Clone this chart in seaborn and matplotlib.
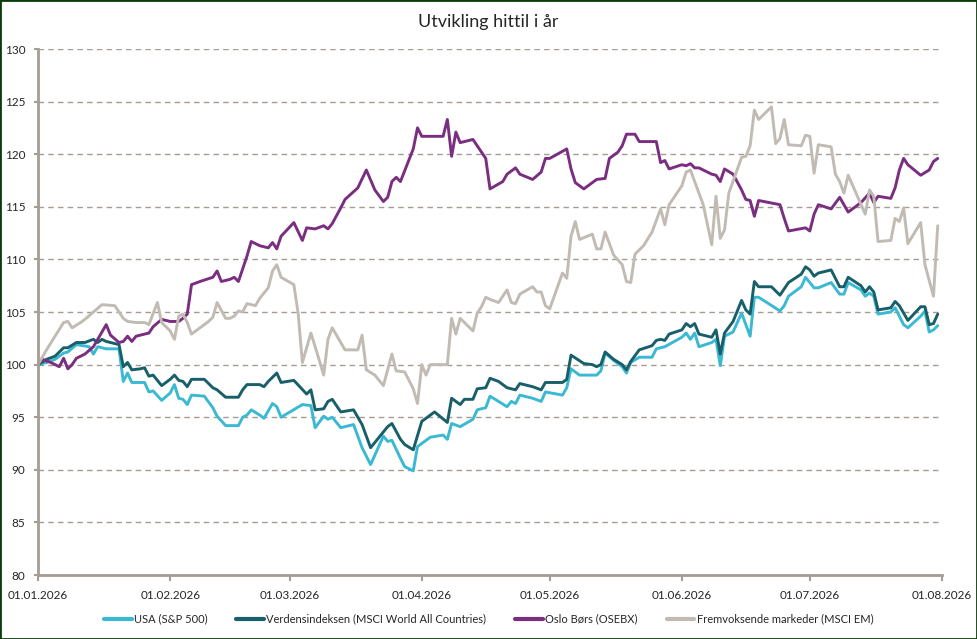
import matplotlib
matplotlib.use("Agg")
import matplotlib.pyplot as plt
import matplotlib.dates as mdates
from matplotlib.patches import Rectangle
from matplotlib.lines import Line2D
import pandas as pd
import seaborn as sns

# Data: day offsets from 01.01.2026 and index values
start = "2026-01-01"

usa_days = [0, 2, 4, 6, 7, 9, 12, 13, 14, 16, 19, 20, 21, 22, 25, 26, 27, 29, 31, 32,
            33, 34, 35, 36, 39, 41, 42, 44, 47, 48, 49, 50, 52, 53, 55, 56, 57, 62, 64, 65,
            67, 68, 69, 71, 74, 76, 78, 81, 82, 83, 85, 86, 88, 89, 92, 95, 96, 97, 99, 102,
            103, 105, 106, 108, 110, 111, 112, 113, 116, 118, 119, 123, 124, 125, 127, 130, 131, 132, 133, 135,
            137, 138, 139, 141, 144, 145, 147, 151, 152, 153, 154, 155, 158, 159, 160, 161, 163, 165, 167, 168,
            169, 174, 175, 176, 179, 180, 182, 183, 186, 188, 189, 190, 193, 194, 195, 196, 197, 200, 201, 203,
            204, 207, 208, 209, 210, 211]
usa_vals = [100.0, 100.2, 100.5, 101.1, 101.2, 101.9, 101.7, 101.0, 101.7, 101.5, 101.5, 98.4, 99.2, 98.3, 98.3, 97.4, 97.5, 96.6, 97.3, 98.1,
            96.8, 96.7, 96.2, 97.1, 97.0, 95.9, 95.1, 94.2, 94.2, 95.0, 95.2, 95.7, 95.2, 94.9, 96.3, 96.0, 95.0, 96.2, 96.1, 94.0,
            95.1, 94.8, 95.0, 94.0, 94.3, 92.1, 90.5, 93.2, 92.7, 92.8, 91.1, 90.3, 89.9, 92.2, 93.1, 93.3, 92.9, 94.4, 94.1, 94.8,
            95.7, 95.9, 97.0, 96.5, 96.0, 96.5, 96.3, 97.1, 96.8, 96.5, 97.4, 97.1, 97.8, 99.6, 99.0, 99.0, 99.0, 99.4, 101.1, 100.4,
            99.8, 99.2, 100.2, 100.7, 100.7, 101.5, 101.7, 102.6, 103.0, 102.4, 103.0, 101.7, 102.1, 102.4, 99.9, 102.7, 103.1, 104.9, 102.7, 106.4,
            106.4, 105.1, 105.6, 106.5, 107.4, 108.3, 107.3, 107.3, 107.8, 106.7, 106.7, 107.8, 107.1, 106.5, 106.8, 106.5, 104.8, 105.0, 105.4, 103.8,
            103.5, 104.6, 105.1, 103.1, 103.3, 103.7]

world_days = [0, 2, 4, 6, 7, 9, 11, 13, 14, 15, 16, 19, 20, 21, 22, 24, 25, 26, 27, 29,
              30, 31, 32, 33, 34, 35, 36, 39, 41, 42, 44, 47, 48, 49, 52, 53, 54, 56, 57, 60,
              63, 64, 65, 67, 68, 69, 71, 74, 76, 78, 82, 83, 85, 86, 88, 90, 91, 93, 96, 97,
              99, 100, 102, 103, 105, 106, 108, 110, 112, 113, 116, 118, 119, 123, 124, 125, 128, 130, 131, 132,
              133, 135, 137, 138, 139, 141, 144, 145, 146, 147, 148, 151, 152, 153, 154, 155, 158, 159, 160, 161,
              163, 165, 166, 167, 168, 169, 172, 174, 176, 179, 180, 181, 182, 183, 186, 188, 189, 190, 193, 194,
              195, 196, 197, 200, 201, 202, 204, 207, 208, 209, 210, 211]
world_vals = [100.0, 100.5, 100.8, 101.6, 101.6, 102.1, 102.1, 102.4, 102.1, 102.4, 102.2, 101.9, 99.8, 100.2, 99.5, 99.6, 99.7, 98.9, 99.0, 98.0,
              98.3, 98.6, 99.0, 98.5, 98.4, 97.9, 98.6, 98.6, 97.8, 97.6, 96.9, 96.9, 97.6, 98.1, 98.1, 97.9, 98.4, 99.2, 98.3, 98.5,
              97.2, 97.6, 95.7, 95.8, 96.5, 96.7, 95.5, 95.7, 94.3, 92.1, 94.1, 94.4, 92.9, 92.4, 91.9, 94.6, 94.9, 95.5, 94.5, 96.8,
              96.2, 96.7, 96.7, 97.7, 97.8, 98.7, 98.4, 97.8, 97.6, 98.2, 97.9, 97.6, 98.3, 98.3, 98.6, 100.9, 100.1, 100.0, 99.8, 100.0,
              101.2, 100.5, 100.0, 99.5, 100.3, 101.4, 101.8, 102.3, 102.4, 102.3, 102.9, 103.3, 103.9, 103.6, 103.9, 102.9, 102.6, 103.3, 101.0, 103.0,
              104.1, 106.1, 105.2, 104.8, 107.9, 107.4, 107.4, 106.6, 107.8, 108.6, 109.3, 109.0, 108.4, 108.7, 109.0, 107.4, 107.4, 108.3, 107.5, 106.9,
              107.4, 106.9, 105.2, 105.4, 106.0, 105.6, 104.2, 105.5, 105.5, 103.8, 103.9, 104.8]

oslo_days = [0, 1, 3, 5, 6, 7, 8, 9, 11, 13, 14, 16, 17, 19, 20, 21, 22, 23, 24, 26,
             27, 29, 31, 33, 34, 35, 36, 38, 41, 42, 43, 45, 46, 47, 49, 50, 52, 54, 55, 56,
             57, 60, 62, 63, 65, 67, 68, 69, 71, 72, 75, 77, 79, 81, 82, 83, 84, 85, 88, 89,
             90, 95, 96, 97, 98, 99, 102, 104, 105, 106, 109, 110, 112, 113, 116, 118, 119, 120, 124, 125,
             126, 128, 130, 131, 133, 134, 136, 137, 138, 140, 141, 145, 146, 147, 148, 151, 152, 153, 154, 155,
             158, 159, 160, 161, 163, 165, 166, 167, 168, 169, 174, 175, 176, 180, 181, 182, 183, 186, 188, 190,
             193, 195, 196, 197, 200, 201, 202, 203, 204, 207, 209, 210, 211]
oslo_vals = [100.0, 100.5, 100.2, 99.8, 100.6, 99.6, 100.0, 100.6, 101.0, 101.7, 102.4, 103.8, 102.8, 102.1, 102.2, 102.7, 102.2, 102.7, 102.8, 103.0,
             103.6, 104.3, 104.1, 104.1, 104.4, 104.8, 107.6, 107.9, 108.3, 108.9, 107.9, 108.1, 108.3, 107.9, 110.3, 111.7, 111.3, 111.1, 111.6, 111.0,
             112.2, 113.5, 111.8, 113.0, 112.9, 113.2, 112.9, 113.4, 114.9, 115.7, 116.8, 118.5, 116.6, 115.5, 115.9, 117.4, 117.8, 117.4, 120.5, 122.5,
             121.7, 121.7, 123.3, 119.8, 122.1, 121.1, 121.4, 120.2, 119.6, 116.7, 117.4, 118.1, 118.7, 118.1, 117.6, 118.3, 119.6, 119.6, 120.5, 118.6,
             117.3, 116.7, 117.3, 117.6, 117.7, 119.6, 120.2, 120.8, 121.9, 121.9, 121.2, 121.2, 119.2, 119.4, 118.6, 119.0, 118.9, 119.1, 118.7, 118.7,
             118.1, 118.0, 117.4, 118.6, 118.1, 116.6, 115.7, 115.6, 114.1, 115.6, 115.2, 113.9, 112.7, 113.0, 112.7, 114.3, 115.2, 114.8, 115.9, 114.5,
             115.4, 116.3, 115.4, 116.0, 115.8, 116.8, 118.5, 119.6, 119.0, 118.0, 118.5, 119.3, 119.6]

em_days = [0, 2, 4, 6, 7, 8, 10, 11, 13, 15, 18, 20, 21, 23, 25, 26, 28, 29, 31, 32,
           33, 34, 35, 36, 38, 40, 41, 42, 44, 45, 46, 47, 48, 49, 51, 52, 54, 55, 56, 57,
           60, 61, 62, 64, 65, 67, 68, 69, 72, 75, 76, 77, 79, 81, 83, 84, 86, 88, 89, 90,
           91, 92, 96, 97, 98, 99, 102, 103, 104, 105, 106, 108, 110, 111, 112, 113, 116, 117, 118, 119,
           120, 123, 124, 125, 126, 127, 130, 131, 132, 133, 135, 137, 138, 139, 140, 142, 144, 146, 147, 148,
           151, 152, 153, 156, 158, 159, 160, 161, 162, 165, 166, 167, 168, 169, 172, 173, 174, 175, 176, 179,
           180, 181, 182, 183, 186, 187, 188, 189, 190, 194, 195, 196, 197, 200, 201, 202, 203, 204, 207, 208,
           210, 211]
em_vals = [100.0, 101.4, 102.7, 104.0, 104.1, 103.5, 104.0, 104.3, 105.0, 105.7, 105.6, 104.4, 104.1, 104.0, 104.0, 103.8, 105.9, 104.0, 103.2, 102.4,
           104.6, 104.8, 104.0, 102.9, 103.5, 104.1, 104.5, 105.9, 104.4, 104.4, 104.6, 105.1, 105.0, 105.8, 105.6, 106.3, 107.3, 108.9, 109.5, 108.3,
           107.6, 104.9, 100.2, 103.0, 101.7, 99.0, 102.4, 103.5, 101.4, 101.4, 102.8, 99.5, 99.0, 98.0, 101.0, 99.4, 99.3, 97.7, 96.3, 100.0,
           99.0, 100.0, 100.0, 104.4, 102.9, 104.4, 103.2, 104.9, 105.5, 106.4, 106.2, 105.9, 107.1, 105.9, 105.8, 106.7, 107.4, 106.9, 106.9, 105.6,
           105.3, 108.7, 108.2, 112.2, 113.6, 111.9, 112.4, 111.0, 111.0, 112.6, 110.4, 109.5, 107.9, 107.8, 110.5, 111.3, 112.6, 114.8, 113.3, 115.2,
           117.0, 118.3, 118.5, 115.2, 111.4, 116.0, 112.0, 112.8, 116.3, 119.7, 119.8, 120.8, 124.2, 123.3, 124.5, 121.0, 121.5, 123.3, 120.9, 120.8,
           121.8, 121.7, 118.2, 120.9, 120.7, 118.1, 117.4, 116.3, 118.0, 114.3, 116.6, 116.0, 111.7, 111.8, 113.9, 113.6, 114.9, 111.5, 113.5, 109.5,
           106.5, 113.2]

series_names = ["USA (S&P 500)",
                "Verdensindeksen (MSCI World All Countries)",
                "Oslo Børs (OSEBX)",
                "Fremvoksende markeder (MSCI EM)"]
colors = ["#3bb9d3", "#185f6a", "#7a2e80", "#c1bbb3"]

# Long format for seaborn
frames = []
for name, days, vals in zip(series_names,
                            [usa_days, world_days, oslo_days, em_days],
                            [usa_vals, world_vals, oslo_vals, em_vals]):
    frames.append(pd.DataFrame({
        "date": pd.Timestamp(start) + pd.to_timedelta(days, unit="D"),
        "value": vals,
        "series": name,
    }))
df = pd.concat(frames, ignore_index=True)

sns.set_style("white")
plt.rcParams["font.family"] = ["Lato", "DejaVu Sans"]

grey = "#a59d94"

fig = plt.figure(figsize=(9.77, 6.39), dpi=100)
ax = fig.add_axes([38 / 977, 1 - 575 / 639, (942 - 38) / 977, (575 - 49) / 639])

sns.lineplot(data=df, x="date", y="value", hue="series", hue_order=series_names,
             palette=colors, estimator=None, linewidth=2.1, legend=False, ax=ax)

ax.set_xlim(pd.Timestamp("2026-01-01"), pd.Timestamp("2026-08-01"))
ax.set_ylim(80, 130)
ax.set_yticks(range(80, 131, 5))
ax.xaxis.set_major_locator(mdates.MonthLocator())
ax.xaxis.set_major_formatter(mdates.DateFormatter("%d.%m.%Y"))
ax.set_xlabel("")
ax.set_ylabel("")

ax.yaxis.grid(True, linestyle=(0, (4, 3)), color=grey, linewidth=1)
ax.xaxis.grid(False)
for s in ["top", "right"]:
    ax.spines[s].set_visible(False)
for s in ["left", "bottom"]:
    ax.spines[s].set_color(grey)
    ax.spines[s].set_linewidth(2)

ax.tick_params(axis="y", length=3, width=1.5, color=grey, labelsize=8.5, pad=6, left=True)
ax.tick_params(axis="x", length=4, width=1.5, color=grey, labelsize=8.5, pad=7, bottom=True)

fig.text(0.5, 1 - 22 / 639, "Utvikling hittil i år", ha="center", va="center", fontsize=13)

handles = [Line2D([], [], color=c, lw=3) for c in colors]
fig.legend(handles, series_names, loc="center", bbox_to_anchor=(0.5, 1 - 619 / 639),
           ncol=4, frameon=False, fontsize=8, handlelength=2.5, handletextpad=0.2,
           columnspacing=2.6)

fig.patches.append(Rectangle((0, 0), 1, 1, transform=fig.transFigure, fill=False,
                             edgecolor="#0b3d0b", linewidth=2))

fig.savefig("out.png", dpi=100)
